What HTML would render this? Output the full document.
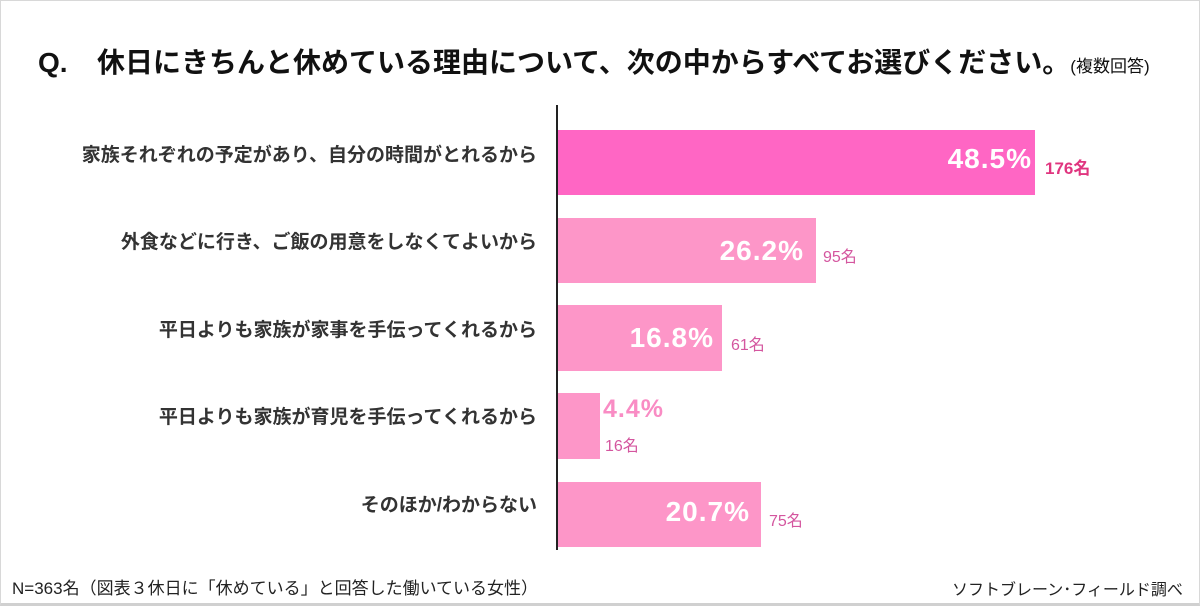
<!DOCTYPE html>
<html><head><meta charset="utf-8"><style>
body{margin:0;width:1200px;height:612px;background:#fff;position:relative;overflow:hidden;font-family:"Liberation Sans","Noto Sans CJK JP",sans-serif;}
.frame{position:absolute;left:0;top:0;width:1198px;height:602px;border:1px solid #d8d8d8;border-bottom:3px solid #d0d0d0;}
.t{position:absolute;white-space:nowrap;}
.bar{position:absolute;left:558px;}
.lab{position:absolute;right:663px;font-size:19px;font-weight:bold;color:#333;white-space:nowrap;}
.pct{position:absolute;color:#fff;font-weight:bold;font-size:28px;letter-spacing:1px;white-space:nowrap;}
.cnt{position:absolute;font-size:16px;color:#d4569f;white-space:nowrap;}
</style></head><body>
<div class="frame"></div>
<div class="t" style="left:38px;top:47px;font-size:28px;font-weight:bold;color:#111;">Q.</div>
<div class="t" style="left:97px;top:41px;font-size:28px;font-weight:bold;color:#111;">休日にきちんと休めている理由について、次の中からすべてお選びください。<span style="font-size:17px;font-weight:normal;">(複数回答)</span></div>
<div style="position:absolute;left:556px;top:105px;width:2px;height:445px;background:#222;"></div>

<div class="bar" style="top:130px;width:477px;height:65px;background:#ff66c4;"></div>
<div class="bar" style="top:218px;width:258px;height:65px;background:#fd96c8;"></div>
<div class="bar" style="top:305px;width:164px;height:66px;background:#fd96c8;"></div>
<div class="bar" style="top:393px;width:42px;height:66px;background:#fd96c8;"></div>
<div class="bar" style="top:482px;width:203px;height:65px;background:#fd96c8;"></div>

<div class="lab" style="top:140px;">家族それぞれの予定があり、自分の時間がとれるから</div>
<div class="lab" style="top:227px;">外食などに行き、ご飯の用意をしなくてよいから</div>
<div class="lab" style="top:315px;">平日よりも家族が家事を手伝ってくれるから</div>
<div class="lab" style="top:402px;">平日よりも家族が育児を手伝ってくれるから</div>
<div class="lab" style="top:490px;">そのほか/わからない</div>

<div class="pct" style="right:168px;top:143px;">48.5%</div>
<div class="cnt" style="left:1045px;top:154px;font-weight:bold;color:#e0357f;font-size:17px;">176名</div>
<div class="pct" style="right:396px;top:235px;">26.2%</div>
<div class="cnt" style="left:823px;top:243px;">95名</div>
<div class="pct" style="right:486px;top:322px;">16.8%</div>
<div class="cnt" style="left:731px;top:331px;">61名</div>
<div class="pct" style="left:603px;top:395px;color:#f98cc4;font-size:25px;">4.4%</div>
<div class="cnt" style="left:605px;top:432px;">16名</div>
<div class="pct" style="right:450px;top:496px;">20.7%</div>
<div class="cnt" style="left:769px;top:507px;">75名</div>

<div class="t" style="left:12px;top:574px;font-size:17px;color:#222;">N=363名（図表３休日に「休めている」と回答した働いている女性）</div>
<div class="t" style="left:952px;top:576px;font-size:16px;color:#222;">ソフトブレーン･フィールド調べ</div>
</body></html>
